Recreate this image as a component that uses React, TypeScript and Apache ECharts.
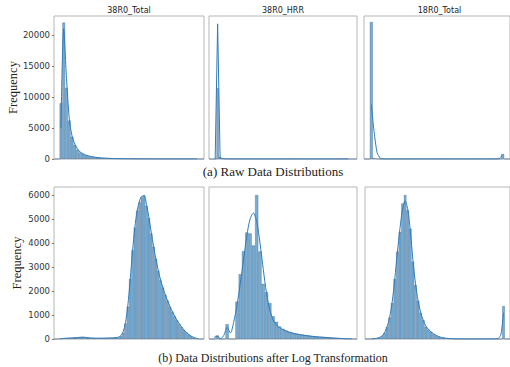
import React, { useEffect, useRef } from 'react';
import * as echarts from 'echarts';

// Column titles and captions
const panelTitles = ['38R0_Total', '38R0_HRR', '18R0_Total'];
const captionTop = '(a) Raw Data Distributions';
const captionBottom = '(b) Data Distributions after Log Transformation';
const yLabel = 'Frequency';

// (a) Raw data — histogram counts per bin and KDE (scaled to counts)
const rawTotal38Hist = [0, 0, 9000, 22000, 11500, 6200, 3600, 2300, 1500, 1050, 800, 620, 480, 380, 300, 240, 200, 165, 135, 110, 95, 80, 68, 58, 50, 43, 37, 32, 28, 24, 21, 18, 16, 14, 12, 11, 10, 9, 8, 7, 6, 6, 5, 5, 4, 4, 3, 3, 3, 2, 2, 2, 0, 0];
const rawTotal38Kde = [null, null, 5000, 21000, 13000, 6500, 3700, 2400, 1600, 1100, 820, 630, 490, 390, 310, 250, 205, 170, 140, 115, 97, 82, 70, 60, 51, 44, 38, 33, 29, 25, 22, 19, 17, 15, 13, 12, 11, 10, 9, 8, 7, 6, 6, 5, 5, 4, 4, 3, 3, 3, 2, 2, null, null];

const rawHrr38Hist = [0, 0, 0, 11450, 350, 90, 40, 25, 15, 10, 8, 6, 5, 4, 4, 3, 3, 3, 2, 2, 2, 2, 2, 2, 1, 1, 1, 1, 1, 1, 1, 1, 1, 1, 1, 1, 1, 1, 1, 1, 1, 1, 1, 1, 1, 1, 1, 1, 1, 1, 1, 1, 1, 1, 1, 1, 1, 0, 0, 0];
const rawHrr38Kde = [null, null, 0, 21800, 150, 40, 20, 12, 8, 6, 5, 4, 3, 3, 2, 2, 2, 2, 2, 1, 1, 1, 1, 1, 1, 1, 1, 1, 1, 1, 1, 1, 1, 1, 1, 1, 1, 1, 1, 1, 1, 1, 1, 1, 1, 1, 1, 1, 1, 1, 1, 1, 1, 1, 1, 1, 1, null, null, null];

const rawTotal18Hist = [0, 0, 22100, 150, 30, 10, 5, 3, 2, 2, 1, 1, 1, 1, 1, 1, 1, 1, 1, 1, 1, 1, 1, 1, 1, 1, 1, 1, 1, 1, 1, 1, 1, 1, 1, 1, 1, 1, 1, 1, 1, 1, 1, 1, 1, 1, 2, 800, 0, 0];
const rawTotal18Kde = [null, null, 8800, 4200, 1000, 150, 20, 5, 2, 1, 1, 1, 1, 1, 1, 1, 1, 1, 1, 1, 1, 1, 1, 1, 1, 1, 1, 1, 1, 1, 1, 1, 1, 1, 1, 1, 1, 1, 1, 1, 1, 1, 1, 2, 6, 25, 120, 700, null, null];

// (b) Log-transformed data
const logTotal38Hist = [0, 0, 10, 20, 30, 35, 40, 45, 50, 55, 65, 75, 80, 70, 55, 45, 40, 35, 35, 35, 35, 38, 40, 42, 45, 50, 55, 70, 120, 260, 650, 1350, 2500, 3700, 4650, 5350, 5700, 5900, 6000, 5550, 5050, 4400, 3850, 3350, 2850, 2450, 2150, 1850, 1600, 1350, 1150, 950, 780, 630, 500, 380, 280, 190, 120, 70, 35, 15, 0, 0];
const logTotal38Kde = [null, null, 12, 20, 28, 34, 40, 46, 52, 58, 66, 74, 76, 68, 56, 46, 40, 36, 35, 35, 36, 38, 40, 43, 46, 52, 60, 80, 140, 300, 680, 1400, 2450, 3650, 4650, 5350, 5750, 5950, 5950, 5600, 5050, 4450, 3850, 3320, 2850, 2450, 2130, 1840, 1580, 1350, 1140, 950, 780, 630, 495, 375, 275, 190, 120, 70, 35, 15, null, null];

const logHrr38Hist = [0, 0, 150, 0, 0, 620, 0, 0, 1560, 2700, 3660, 4440, 4400, 3900, 6000, 3650, 2300, 1950, 1500, 950, 720, 520, 420, 350, 300, 260, 230, 200, 180, 160, 140, 120, 105, 95, 85, 75, 65, 55, 45, 35, 25, 15, 8, 4, 0];
const logHrr38Kde = [null, 60, 110, 20, 150, 480, 250, 700, 1400, 2300, 3300, 4300, 5000, 5250, 4900, 4000, 2900, 1900, 1200, 800, 580, 470, 390, 330, 280, 240, 210, 185, 165, 145, 125, 110, 97, 85, 75, 65, 55, 45, 36, 28, 20, 13, 8, 4, null];

const logTotal18Hist = [0, 0, 5, 15, 30, 60, 120, 250, 500, 900, 1500, 2500, 3640, 4470, 5650, 6000, 5375, 4600, 3220, 2250, 1600, 1100, 790, 510, 400, 300, 210, 150, 100, 65, 45, 30, 20, 12, 8, 5, 3, 2, 0, 0, 0, 0, 0, 0, 0, 0, 0, 0, 0, 0, 0, 0, 0, 1375, 0, 0];
const logTotal18Kde = [null, null, 5, 14, 30, 60, 120, 250, 500, 900, 1550, 2500, 3600, 4600, 5400, 5750, 5400, 4500, 3300, 2300, 1600, 1100, 780, 540, 400, 300, 215, 150, 100, 66, 45, 30, 20, 12, 8, 5, 3, 2, 1, 1, 1, 1, 1, 1, 1, 1, 1, 1, 1, 2, 5, 25, 200, 1100, null, null];

// Axis scales
const topMax = 23065;
const topInterval = 5000;
const bottomMax = 6333;
const bottomInterval = 1000;

export default function App() {
  const ref = useRef<HTMLDivElement>(null);

  useEffect(() => {
    if (!ref.current) return;
    const chart = echarts.init(ref.current, null, { renderer: 'svg' });

    const panels = [
      { hist: rawTotal38Hist, kde: rawTotal38Kde, left: 54, top: 16, width: 150, height: 143, max: topMax, interval: topInterval, showY: true, smooth: 0.3 },
      { hist: rawHrr38Hist, kde: rawHrr38Kde, left: 209, top: 16, width: 148, height: 143, max: topMax, interval: topInterval, showY: false, smooth: 0 },
      { hist: rawTotal18Hist, kde: rawTotal18Kde, left: 364, top: 16, width: 151, height: 143, max: topMax, interval: topInterval, showY: false, smooth: 0.2 },
      { hist: logTotal38Hist, kde: logTotal38Kde, left: 54, top: 187, width: 150, height: 152, max: bottomMax, interval: bottomInterval, showY: true, smooth: 0.3 },
      { hist: logHrr38Hist, kde: logHrr38Kde, left: 209, top: 187, width: 148, height: 152, max: bottomMax, interval: bottomInterval, showY: false, smooth: 0.3 },
      { hist: logTotal18Hist, kde: logTotal18Kde, left: 365, top: 187, width: 150, height: 152, max: bottomMax, interval: bottomInterval, showY: false, smooth: 0.3 },
    ];

    const barColor = 'rgba(31,119,180,0.6)';
    const barEdge = 'rgba(25,70,115,0.55)';
    const kdeColor = '#2f7bb8';

    const option: any = {
      animation: false,
      backgroundColor: '#ffffff',
      grid: panels.map((p) => ({
        left: p.left,
        top: p.top,
        width: p.width,
        height: p.height,
        show: true,
        borderColor: '#b5b5b5',
        borderWidth: 1,
        backgroundColor: 'transparent',
      })),
      xAxis: panels.map((p, i) => ({
        type: 'category',
        gridIndex: i,
        data: p.hist.map((_, j) => String(j)),
        boundaryGap: true,
        axisLine: { show: false },
        axisTick: { show: false },
        axisLabel: { show: false },
        splitLine: { show: false },
      })),
      yAxis: panels.map((p, i) => ({
        type: 'value',
        gridIndex: i,
        min: 0,
        max: p.max,
        interval: p.interval,
        axisLine: { show: false },
        axisTick: { show: p.showY, length: 2, lineStyle: { color: '#555', width: 0.8 } },
        axisLabel: {
          show: p.showY,
          fontSize: 8.5,
          color: '#333',
          fontFamily: 'DejaVu Sans',
          margin: 4,
          showMaxLabel: false,
          formatter: (v: number) => String(v),
        },
        splitLine: { show: false },
        name: p.showY ? yLabel : '',
        nameLocation: 'middle',
        nameGap: 31,
        nameTextStyle: { fontFamily: 'Liberation Serif', fontSize: 12.5, color: '#222' },
      })),
      series: panels.flatMap((p, i) => [
        {
          type: 'bar',
          xAxisIndex: i,
          yAxisIndex: i,
          data: p.hist,
          barCategoryGap: '0%',
          itemStyle: { color: barColor, borderColor: barEdge, borderWidth: 0.5 },
          silent: true,
        },
        {
          type: 'line',
          xAxisIndex: i,
          yAxisIndex: i,
          data: p.kde,
          smooth: p.smooth,
          showSymbol: false,
          connectNulls: false,
          lineStyle: { color: kdeColor, width: 1 },
          z: 3,
          silent: true,
        },
      ]),
      graphic: [
        ...panelTitles.map((t, i) => ({
          type: 'text',
          x: panels[i].left + panels[i].width / 2,
          y: 10.5,
          style: { text: t, fontSize: 8, fontFamily: 'DejaVu Sans', fill: '#222', align: 'center', verticalAlign: 'middle' },
        })),
        {
          type: 'text',
          x: 273,
          y: 171.5,
          style: { text: captionTop, fontSize: 13, fontFamily: 'Liberation Serif', fill: '#222', align: 'center', verticalAlign: 'middle' },
        },
        {
          type: 'text',
          x: 273,
          y: 358,
          style: { text: captionBottom, fontSize: 12, fontFamily: 'Liberation Serif', fill: '#222', align: 'center', verticalAlign: 'middle' },
        },
      ],
    };

    chart.setOption(option);
    return () => chart.dispose();
  }, []);

  return <div ref={ref} style={{ position: 'absolute', left: 0, top: 0, width: 510, height: 367 }} />;
}
